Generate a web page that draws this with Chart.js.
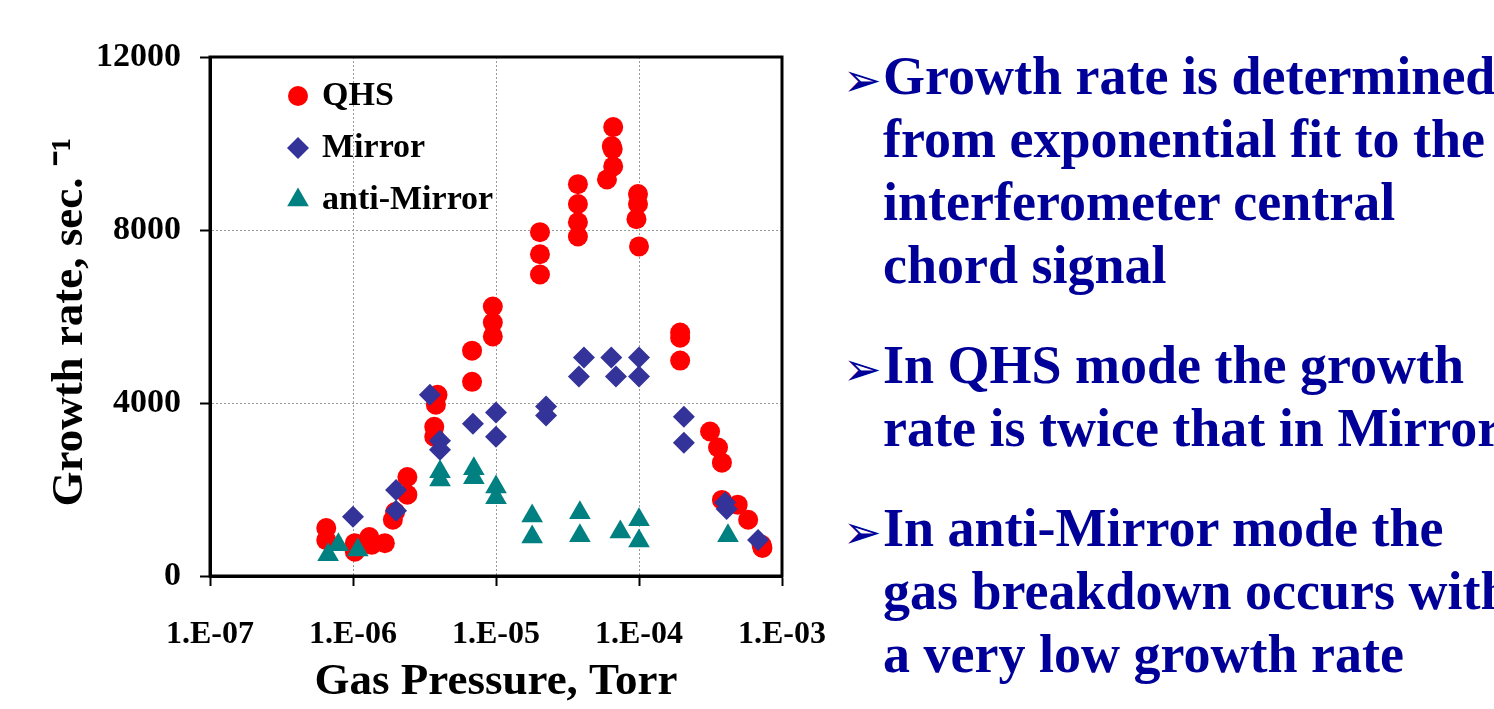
<!DOCTYPE html>
<html>
<head>
<meta charset="utf-8">
<script src="https://cdn.jsdelivr.net/npm/chart.js@4.4.0/dist/chart.umd.min.js"></script>
<style>
  html, body { margin: 0; padding: 0; background: #fff; overflow: hidden; }
  body { width: 1494px; height: 709px; position: relative; }
  #wrap { position: absolute; left: 0; top: 0; width: 840px; height: 709px; }
  #notes {
    position: absolute; left: 883px; top: 45px;
    font-family: 'Liberation Serif', 'Times New Roman', serif;
    font-weight: bold; font-size: 54px; line-height: 63px;
    color: #000099; white-space: nowrap;
  }
  .pt { position: relative; margin-bottom: 37px; }
  .pt::before {
    content: '\27A2'; position: absolute; left: -40px; top: 4px;
    font-family: 'DejaVu Sans', sans-serif; font-weight: normal; font-size: 46px; line-height: 63px;
  }
</style>
</head>
<body>
<div id="wrap"><canvas id="chart"></canvas></div>
<div id="notes">
  <div class="pt">Growth rate is determined<br>from exponential fit to the<br>interferometer central<br>chord signal</div>
  <div class="pt">In QHS mode the growth<br>rate is twice that in Mirror</div>
  <div class="pt">In anti-Mirror mode the<br>gas breakdown occurs with<br>a very low growth rate</div>
</div>
<script>
// gas pressure (Torr) and growth rate (1/s)
const qhsPressure = [6.5e-7, 6.5e-7, 1.03e-6, 1.03e-6, 1.3e-6, 1.35e-6, 1.67e-6, 1.9e-6, 1.97e-6, 2.4e-6, 2.4e-6,
  3.9e-6, 3.8e-6, 3.7e-6, 3.7e-6, 6.8e-6, 6.8e-6, 9.5e-6, 9.5e-6, 9.5e-6, 2.03e-5, 2.03e-5, 2.03e-5,
  3.74e-5, 3.74e-5, 3.74e-5, 3.74e-5, 6.6e-5, 6.45e-5, 6.55e-5, 6.6e-5, 5.97e-5, 9.84e-5, 9.84e-5, 9.6e-5, 1.0e-4,
  1.94e-4, 1.94e-4, 1.94e-4, 3.14e-4, 3.57e-4, 3.8e-4, 3.8e-4, 4.9e-4, 5.8e-4, 7.2e-4, 7.3e-4];
const qhsRate = [1110, 830, 760, 560, 900, 720, 760, 1300, 1480, 2290, 1880,
  4190, 3960, 3450, 3220, 5210, 4490, 6230, 5860, 5540, 7950, 7440, 6970,
  9060, 8600, 8180, 7850, 10380, 9940, 9870, 9470, 9170, 8830, 8600, 8250, 7620,
  5630, 5510, 4980, 3340, 2970, 2620, 1760, 1650, 1300, 720, 650];

const mirrorPressure = [1.0e-6, 2.0e-6, 2.0e-6, 3.45e-6, 4.06e-6, 4.06e-6, 6.9e-6, 1.0e-5, 1.0e-5, 2.24e-5, 2.24e-5,
  4.12e-5, 3.8e-5, 6.4e-5, 6.9e-5, 1.0e-4, 1.0e-4, 2.06e-4, 2.06e-4, 4.0e-4, 4.1e-4, 6.8e-4];
const mirrorRate = [1370, 1990, 1510, 4190, 3130, 2920, 3520, 3780, 3220, 3920, 3710,
  5050, 4610, 5050, 4610, 5050, 4610, 3680, 3080, 1700, 1550, 830];

const antiPressure = [6.7e-7, 7.9e-7, 1.08e-6, 4.06e-6, 4.06e-6, 7.0e-6, 7.0e-6, 1.0e-5, 1.0e-5,
  1.79e-5, 1.79e-5, 3.86e-5, 3.86e-5, 7.4e-5, 1.0e-4, 1.0e-4, 4.19e-4];
const antiRate = [490, 720, 600, 2410, 2220, 2480, 2270, 2060, 1810,
  1390, 900, 1460, 930, 1020, 1300, 810, 930];

const xTickValues = [1e-7, 1e-6, 1e-5, 1e-4, 1e-3];
const xTickLabels = ['1.E-07', '1.E-06', '1.E-05', '1.E-04', '1.E-03'];
const yTickValues = [0, 4000, 8000, 12000];

const serif = "'Liberation Serif', 'Times New Roman', serif";
const toPoints = (xs, ys) => xs.map((x, i) => ({ x: x, y: ys[i] }));

// black box round the plot + legend drawn inside the plot area
const frameAndLegend = {
  id: 'frameAndLegend',
  afterDraw(chart) {
    const { ctx, chartArea: a } = chart;
    ctx.save();
    ctx.lineWidth = 3;
    ctx.strokeStyle = '#000';
    ctx.strokeRect(a.left, a.top, a.right - a.left, a.bottom - a.top);

    ctx.font = 'bold 34px ' + serif;
    ctx.textBaseline = 'middle';
    chart.data.datasets.forEach((ds, i) => {
      const x = a.left + 88;
      const y = a.top + 39 + i * 52;
      ctx.fillStyle = ds.backgroundColor;
      Chart.helpers.drawPoint(ctx, { pointStyle: ds.pointStyle, radius: ds.pointRadius, rotation: 0, borderWidth: 0 }, x, y);
      ctx.fillStyle = '#000';
      ctx.fillText(ds.label, x + 24, y);
    });
    ctx.restore();
  }
};

const titleFont = { family: serif, size: 45, weight: 'bold', lineHeight: 1.2 };

new Chart(document.getElementById('chart'), {
  type: 'scatter',
  data: {
    datasets: [
      { label: 'QHS', data: toPoints(qhsPressure, qhsRate), pointStyle: 'circle', pointRadius: 10,
        backgroundColor: '#ff0000', borderWidth: 0, order: 3 },
      { label: 'Mirror', data: toPoints(mirrorPressure, mirrorRate), pointStyle: 'rectRot', pointRadius: 11,
        backgroundColor: '#333399', borderWidth: 0, order: 2 },
      { label: 'anti-Mirror', data: toPoints(antiPressure, antiRate), pointStyle: 'triangle', pointRadius: 12.5,
        backgroundColor: '#008080', borderWidth: 0, order: 1 }
    ]
  },
  options: {
    animation: false,
    responsive: true,
    maintainAspectRatio: false,
    events: [],
    layout: { padding: { top: 57, right: 58, bottom: 0, left: 0 } },
    plugins: { legend: { display: false }, tooltip: { enabled: false } },
    scales: {
      x: {
        type: 'logarithmic',
        min: 1e-7,
        max: 1e-3,
        afterBuildTicks: s => { s.ticks = xTickValues.map(v => ({ value: v })); },
        afterFit: s => { s.height = 133; s.paddingLeft = 0; s.paddingRight = 0; },
        ticks: { callback: (v, i) => xTickLabels[i], font: { family: serif, size: 32, weight: 'bold' }, color: '#000', padding: 30, maxRotation: 0, autoSkip: false },
        grid: { color: '#999', lineWidth: 1, tickLength: 10, tickWidth: 2, tickColor: '#000', tickBorderDash: [] },
        border: { display: true, color: '#000', width: 3, dash: [2, 2] },
        title: { display: true, text: 'Gas Pressure, Torr', font: titleFont, color: '#000', padding: { top: 0, bottom: 0 } }
      },
      y: {
        min: 0,
        max: 12000,
        afterBuildTicks: s => { s.ticks = yTickValues.map(v => ({ value: v })); },
        afterFit: s => { s.width = 210; },
        ticks: { callback: v => String(v), font: { family: serif, size: 34, weight: 'bold' }, color: '#000', padding: 19 },
        grid: { color: '#999', lineWidth: 1, tickLength: 10, tickWidth: 2, tickColor: '#000', tickBorderDash: [] },
        border: { display: true, color: '#000', width: 3, dash: [2, 2] },
        title: { display: true, text: 'Growth rate, sec. \u207B\u00B9 ', font: titleFont, color: '#000', padding: { top: 43, bottom: 0 } }
      }
    }
  },
  plugins: [frameAndLegend]
});
</script>
</body>
</html>
